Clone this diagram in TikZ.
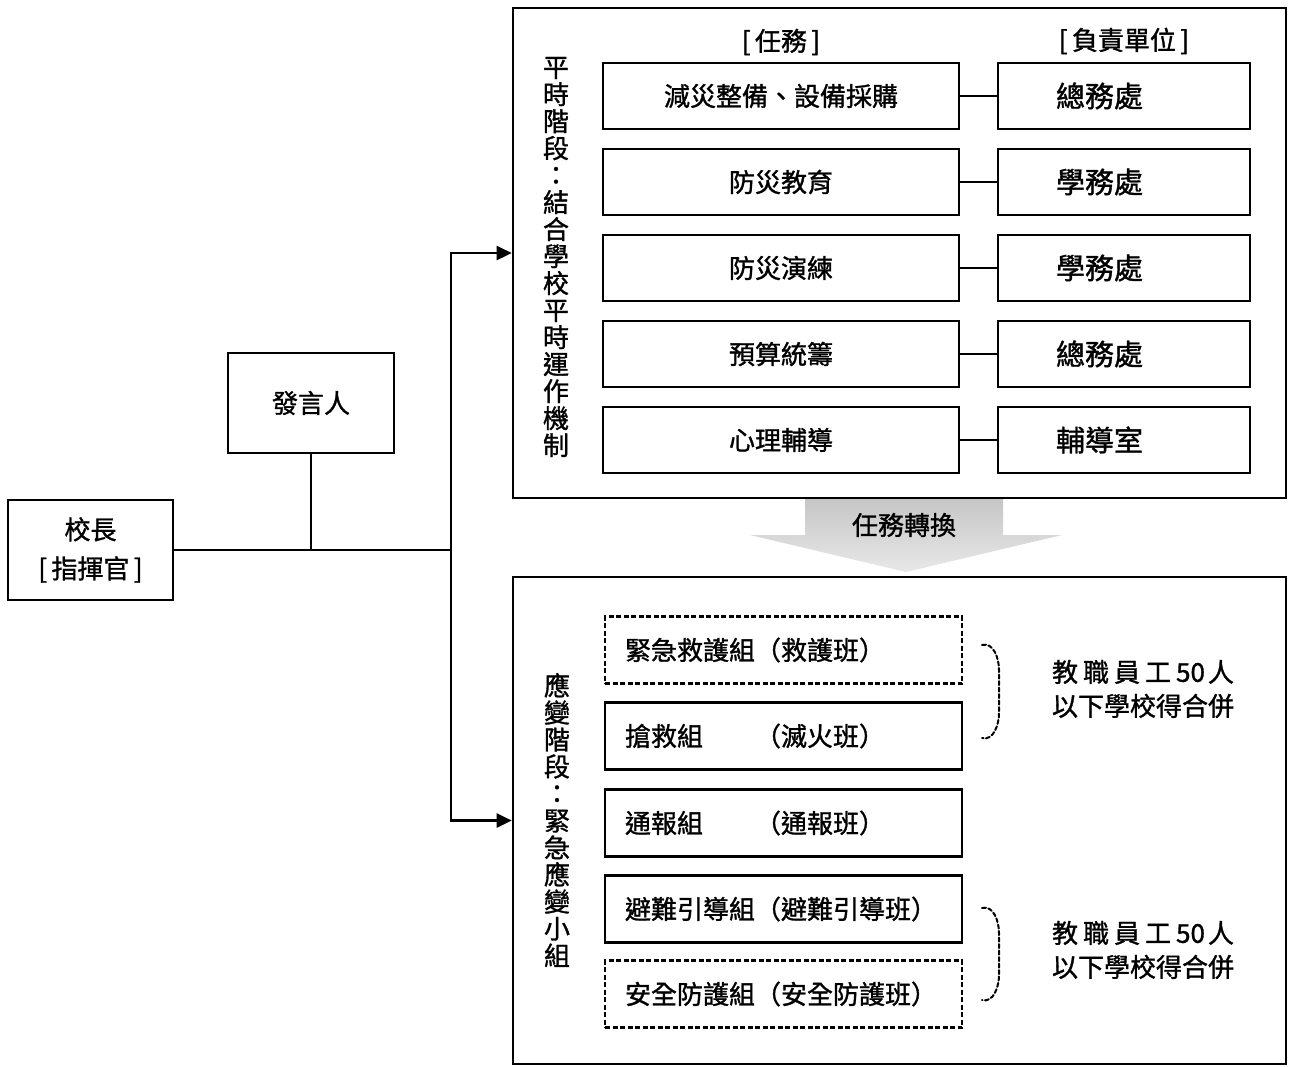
\documentclass[tikz,border=0pt]{standalone}
\usepackage{fontspec}
\setmainfont{Noto Sans CJK TC}[UprightFeatures={FakeBold=1.2}]
\usetikzlibrary{positioning}
\usetikzlibrary{arrows.meta}

\begin{document}
\begin{tikzpicture}[x=1pt,y=-1pt,node distance=86pt,on grid,
   every node/.style={font=\fontsize{26}{27}\selectfont},
   box/.style={draw,line width=2.6pt,minimum height=66pt,inner sep=0pt},
   task/.style={box,minimum width=356pt},
   unit/.style={box,minimum width=252pt,text width=136pt,align=left,font=\fontsize{29}{30}\selectfont},
   grp/.style={box,minimum width=357pt,minimum height=67pt,text width=317pt,align=left},
   dgrp/.style={grp,dash pattern=on 5pt off 2.5pt,line width=2.2pt},
   frame/.style={draw,line width=2.6pt,minimum width=773pt,inner sep=0pt},
   vtxt/.style={align=center,inner sep=0pt},
   brace/.style={line width=2pt,dash pattern=on 4pt off 2.5pt,line cap=round}]
   \useasboundingbox (0,0) rectangle (1289,1066);
   % two phases
   \node[frame,minimum height=490pt] (peace) at (899.5,253) {};
   \node[frame,minimum height=487pt] (resp) at (899.5,820.5) {};
   \node[vtxt] (peace_t) at (556,257) {平\\時\\階\\段\\：\\結\\合\\學\\校\\平\\時\\運\\作\\機\\制};
   \node[vtxt] (resp_t) at (557,820) {應\\變\\階\\段\\：\\緊\\急\\應\\變\\小\\組};
   % tasks and units
   \node[task] (t_1) at (781,96) {減災整備、設備採購};
   \node[task] (t_2) [below=of t_1] {防災教育};
   \node[task] (t_3) [below=of t_2] {防災演練};
   \node[task] (t_4) [below=of t_3] {預算統籌};
   \node[task] (t_5) [below=of t_4] {心理輔導};
   \node[unit] (u_1) [right=343pt of t_1] {總務處};
   \node[unit] (u_2) [right=343pt of t_2] {學務處};
   \node[unit] (u_3) [right=343pt of t_3] {學務處};
   \node[unit] (u_4) [right=343pt of t_4] {總務處};
   \node[unit] (u_5) [right=343pt of t_5] {輔導室};
   \node (hd_1) [above=54pt of t_1] {[\,任務\,]};
   \node (hd_2) [above=55pt of u_1] {[\,負責單位\,]};
   \path[line width=2.4pt]
    (t_1) edge (u_1)
    (t_2) edge (u_2)
    (t_3) edge (u_3)
    (t_4) edge (u_4)
    (t_5) edge (u_5);
   % task switch
   \shade[top color=gray!45,bottom color=gray!18]
    (805,499) -- (1003,499) -- (1003,535) -- (1062,535) -- (906,572) -- (750,535) -- (805,535) -- cycle;
   \node (swap) at (904,525) {任務轉換};
   % emergency groups
   \node[dgrp] (g_1) at (783.5,650) {緊急救護組（救護班）};
   \node[grp] (g_2) [below=86pt of g_1] {搶救組　　（滅火班）};
   \node[grp] (g_3) [below=87pt of g_2] {通報組　　（通報班）};
   \node[grp] (g_4) [below=86pt of g_3] {避難引導組（避難引導班）};
   \node[dgrp] (g_5) [below=85pt of g_4] {安全防護組（安全防護班）};
   \draw[brace] (982,645) to[out=15,in=90] (999,670) -- (999,713) to[out=-90,in=-15] (982,738);
   \draw[brace] (982,908) to[out=15,in=90] (999,933) -- (999,975) to[out=-90,in=-15] (982,1000);
   \node[align=center,font=\fontsize{26}{34}\selectfont] (n_1) at (1143,689)
    {教\hspace{5pt}職\hspace{5pt}員\hspace{5pt}工\hspace{5pt}50\hspace{3pt}人\\以下學校得合併};
   \node[align=center,font=\fontsize{26}{34}\selectfont] (n_2) at (1143,950)
    {教\hspace{5pt}職\hspace{5pt}員\hspace{5pt}工\hspace{5pt}50\hspace{3pt}人\\以下學校得合併};
   % command
   \node[box,minimum width=165pt,minimum height=100pt,align=center,font=\fontsize{26}{39}\selectfont]
    (chief) at (90.5,550) {校長\\{[\,指揮官\,]}};
   \node[box,minimum width=166pt,minimum height=100pt] (spk) at (311,403) {發言人};
   \coordinate (hub) at (451,550);
   \draw[line width=2.6pt] (chief) -- (hub);
   \draw[line width=2.6pt] (spk) -- (spk |- hub);
   \draw[line width=2.6pt,-{Triangle[length=15pt,width=14pt]}] (hub) |- (peace.west);
   \draw[line width=2.6pt,-{Triangle[length=15pt,width=14pt]}] (hub) |- (resp.west);
\end{tikzpicture}
\end{document}
